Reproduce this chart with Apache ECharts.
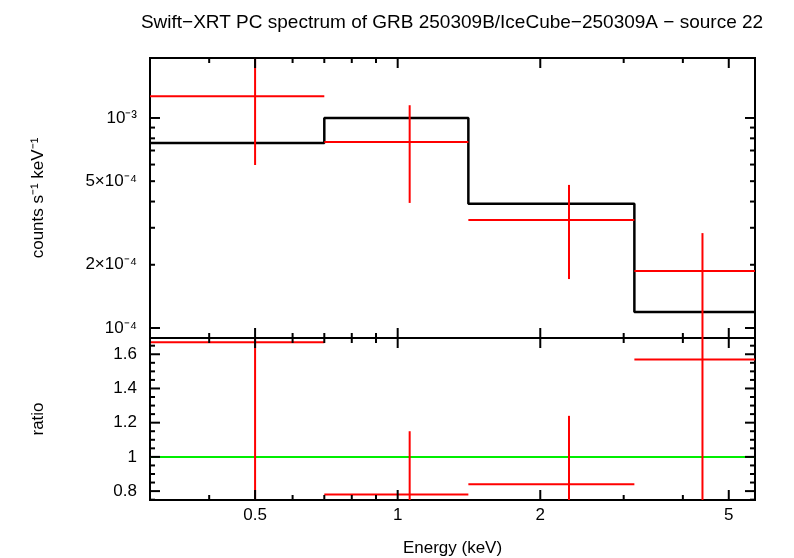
<!DOCTYPE html>
<html><head><meta charset="utf-8">
<script src="https://cdn.jsdelivr.net/npm/echarts@6/dist/echarts.min.js"></script>
<style>html,body{margin:0;padding:0;background:#fff}#c{width:794px;height:558px}</style>
</head><body><div id="c"></div>
<script>
// 数据
const energyEdges = [0.3, 0.70, 1.41, 3.16, 5.68];
const energyCenters = [0.5, 1.06, 2.3, 4.4];
const rate = [1.27e-3, 7.69e-4, 3.27e-4, 1.87e-4];
const rateLo = [5.97e-4, 3.94e-4, 1.71e-4, 5.0e-5];
const rateHi = [3.0e-3, 1.15e-3, 4.8e-4, 2.83e-4];
const model = [7.6e-4, 1.0e-3, 3.9e-4, 1.19e-4];
const ratio = [1.67, 0.78, 0.84, 1.57];
const ratioLo = [0.5, 0.5, 0.5, 0.5];
const ratioHi = [2.5, 1.15, 1.24, 2.5];
// 刻度
const xMajor = [0.5, 1, 2, 5];
const xMinor = [0.3, 0.4, 0.6, 0.7, 0.8, 0.9, 3, 4];
const yTopMajor = [1e-4, 1e-3];
const yTopMinor = [2e-4, 3e-4, 4e-4, 5e-4, 6e-4, 7e-4, 8e-4, 9e-4];
const yTopLabels = [[1e-3, '10⁻³'], [5e-4, '5×10⁻⁴'], [2e-4, '2×10⁻⁴'], [1e-4, '10⁻⁴']];
const ratioMajor = [0.8, 1, 1.2, 1.4, 1.6];
const ratioMinor = [0.75, 0.85, 0.9, 0.95, 1.05, 1.1, 1.15, 1.25, 1.3, 1.35, 1.45, 1.5, 1.55, 1.65];

const L = Math.log10;
const xMin = L(0.3), xMax = L(5.68);
const topMin = L(8.96e-5), topMax = L(1.93e-3);
const botMin = 0.748, botMax = 1.695;
const font = 'Liberation Sans, Arial, sans-serif';

let myChart = echarts.init(document.getElementById('c'));

// 误差棒
function errSeries(grid, ys, los, his, fy) {
    return {
        type: 'custom', xAxisIndex: grid, yAxisIndex: grid, clip: true, z: 5,
        data: energyCenters.map((e, i) => [i]),
        renderItem: function (params, api) {
            let i = params.dataIndex;
            let a = api.coord([L(energyEdges[i]), fy(ys[i])]);
            let b = api.coord([L(energyEdges[i + 1]), fy(ys[i])]);
            let c1 = api.coord([L(energyCenters[i]), fy(los[i])]);
            let c2 = api.coord([L(energyCenters[i]), fy(his[i])]);
            let st = { stroke: '#ff0000', lineWidth: 2 };
            return { type: 'group', children: [
                { type: 'line', shape: { x1: a[0], y1: a[1], x2: b[0], y2: b[1] }, style: st },
                { type: 'line', shape: { x1: c1[0], y1: c1[1], x2: c2[0], y2: c2[1] }, style: st }
            ] };
        }
    };
}

// 刻度与标签
function tickSeries(grid, xTicks, yTicks, yLabels, showXLabels) {
    return {
        type: 'custom', xAxisIndex: grid, yAxisIndex: grid, silent: true, z: 10,
        data: [[0]],
        renderItem: function (params, api) {
            let ys = grid === 0 ? [topMin, topMax] : [botMin, botMax];
            let ch = [];
            let st = { stroke: '#000', lineWidth: 2 };
            xTicks.forEach(t => {
                let len = t[1] ? 10 : 5;
                let p0 = api.coord([L(t[0]), ys[0]]), p1 = api.coord([L(t[0]), ys[1]]);
                ch.push({ type: 'line', shape: { x1: p0[0], y1: p0[1], x2: p0[0], y2: p0[1] - len }, style: st });
                ch.push({ type: 'line', shape: { x1: p1[0], y1: p1[1], x2: p1[0], y2: p1[1] + len }, style: st });
                if (showXLabels && t[1]) ch.push({ type: 'text', x: p0[0], y: p0[1] + 15,
                    style: { text: String(t[0]), font: '17px ' + font, align: 'center', verticalAlign: 'middle', fill: '#000' } });
            });
            yTicks.forEach(t => {
                let len = t[1] ? 10 : 5;
                let p0 = api.coord([xMin, t[0]]), p1 = api.coord([xMax, t[0]]);
                ch.push({ type: 'line', shape: { x1: p0[0], y1: p0[1], x2: p0[0] + len, y2: p0[1] }, style: st });
                ch.push({ type: 'line', shape: { x1: p1[0], y1: p1[1], x2: p1[0] - len, y2: p1[1] }, style: st });
            });
            yLabels.forEach(t => {
                let p0 = api.coord([xMin, t[0]]);
                ch.push({ type: 'text', x: p0[0] - 13, y: p0[1], style: { text: t[1], font: '17px ' + font, align: 'right', verticalAlign: 'middle', fill: '#000' } });
            });
            return { type: 'group', children: ch };
        }
    };
}

let xTicks = xMajor.map(v => [v, 1]).concat(xMinor.map(v => [v, 0]));
let topYTicks = yTopMajor.map(v => [L(v), 1]).concat(yTopMinor.map(v => [L(v), 0]));
let botYTicks = ratioMajor.map(v => [v, 1]).concat(ratioMinor.map(v => [v, 0]));
let topLabels = yTopLabels.map(t => [L(t[0]), t[1]]);

let stepData = energyEdges.map((e, i) => [L(e), L(model[Math.min(i, model.length - 1)])]);

let axisOff = { show: false };
let option = {
    animation: false,
    title: {
        text: 'Swift−XRT PC spectrum of GRB 250309B/IceCube−250309A − source 22',
        left: 447, top: 8, textAlign: 'center',
        textStyle: { fontFamily: font, fontSize: 19, fontWeight: 'normal', color: '#000' }
    },
    grid: [
        { left: 150, width: 605, top: 58, height: 280, show: true, borderColor: '#000', borderWidth: 2 },
        { left: 150, width: 605, top: 338, height: 169, show: true, borderColor: '#000', borderWidth: 2 }
    ],
    xAxis: [
        { type: 'value', gridIndex: 0, min: xMin, max: xMax, axisLine: axisOff, axisTick: axisOff, axisLabel: axisOff, splitLine: axisOff },
        { type: 'value', gridIndex: 1, min: xMin, max: xMax, axisLine: axisOff, axisTick: axisOff, axisLabel: axisOff, splitLine: axisOff,
          name: 'Energy (keV)', nameLocation: 'middle', nameGap: 40, nameTextStyle: { fontFamily: font, fontSize: 17, color: '#000' } }
    ],
    yAxis: [
        { type: 'value', gridIndex: 0, min: topMin, max: topMax, axisLine: axisOff, axisTick: axisOff, axisLabel: axisOff, splitLine: axisOff,
          name: 'counts s⁻¹ keV⁻¹', nameLocation: 'middle', nameGap: 103, nameTextStyle: { fontFamily: font, fontSize: 17, color: '#000' } },
        { type: 'value', gridIndex: 1, min: botMin, max: botMax, axisLine: axisOff, axisTick: axisOff, axisLabel: axisOff, splitLine: axisOff,
          name: 'ratio', nameLocation: 'middle', nameGap: 103, nameTextStyle: { fontFamily: font, fontSize: 17, color: '#000' } }
    ],
    series: [
        { type: 'line', xAxisIndex: 0, yAxisIndex: 0, step: 'end', showSymbol: false, symbol: 'none',
          lineStyle: { color: '#000', width: 2.5 }, data: stepData, z: 4 },
        errSeries(0, rate, rateLo, rateHi, L),
        { type: 'line', xAxisIndex: 1, yAxisIndex: 1, showSymbol: false, symbol: 'none',
          lineStyle: { color: '#00ee00', width: 2 }, data: [[xMin, 1], [xMax, 1]], z: 4 },
        errSeries(1, ratio, ratioLo, ratioHi, v => v),
        tickSeries(0, xTicks, topYTicks, topLabels, false),
        tickSeries(1, xTicks, botYTicks, ratioMajor.map(v => [v, String(v)]), true)
    ]
};
myChart.setOption(option);
</script>
</body></html>
